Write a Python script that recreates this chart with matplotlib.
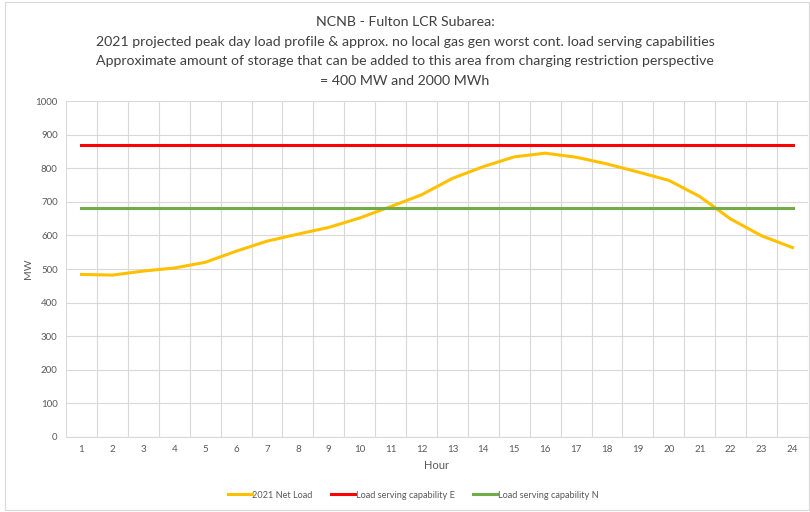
"""NCNB - Fulton LCR subarea load profile vs load serving capabilities."""

import matplotlib.pyplot as plt
from matplotlib.patches import Rectangle
from matplotlib.ticker import FixedLocator, MultipleLocator

plt.rcParams["font.family"] = ["Lato", "DejaVu Sans"]

HOURS = list(range(1, 25))
NET_LOAD_2021 = [484, 482, 494, 503, 520, 553, 583, 604, 624, 652, 686, 721,
                 770, 805, 834, 845, 833, 813, 789, 764, 716, 649, 599, 564]
CAPABILITY_E = [870] * 24
CAPABILITY_N = [683] * 24

TITLE = ("NCNB - Fulton LCR Subarea:\n"
         "2021 projected peak day load profile & approx. no local gas gen worst cont. load serving capabilities\n"
         "Approximate amount of storage that can be added to this area from charging restriction perspective\n"
         "= 400 MW and 2000 MWh")

TEXT_GREY = "#595959"
GRID_GREY = "#d9d9d9"

fig = plt.figure(figsize=(8.1, 5.12), dpi=100)
ax = fig.add_axes([0.0815, 0.1465, 0.916, 0.656])

ax.plot(HOURS, NET_LOAD_2021, color="#ffc000", lw=2.2, label="2021 Net Load")
ax.plot(HOURS, CAPABILITY_E, color="#ff0000", lw=2.2, label="Load serving capability E")
ax.plot(HOURS, CAPABILITY_N, color="#70ad47", lw=2.2, label="Load serving capability N")

ax.set_xlim(0.5, 24.5)
ax.set_ylim(0, 1000)
ax.set_xticks(HOURS)
ax.yaxis.set_major_locator(MultipleLocator(100))
ax.xaxis.set_minor_locator(FixedLocator([h + 0.5 for h in range(0, 25)]))
ax.grid(which="minor", axis="x", color=GRID_GREY, lw=0.8)
ax.grid(which="major", axis="y", color=GRID_GREY, lw=0.8)
ax.set_axisbelow(True)
ax.tick_params(which="both", length=0, labelsize=7, colors=TEXT_GREY, pad=6)
for side in ("top", "right", "left"):
    ax.spines[side].set_visible(False)
ax.spines["bottom"].set_color(GRID_GREY)

ax.set_xlabel("Hour", fontsize=8, color=TEXT_GREY, labelpad=4)
ax.set_ylabel("MW", fontsize=7.5, color=TEXT_GREY, labelpad=2)

fig.text(0.5, 0.968, TITLE, ha="center", va="top", fontsize=10.2,
         color="#404040", linespacing=1.75)

fig.legend(loc="center", bbox_to_anchor=(0.51, 0.033), ncol=3, frameon=False,
           fontsize=6.6, labelcolor=TEXT_GREY, handlelength=2.6,
           handletextpad=0.1, columnspacing=2.0)

fig.patches.append(Rectangle((0.006, 0.004), 0.993, 0.992, transform=fig.transFigure,
                             fill=False, edgecolor="#d9d9d9", lw=0.8))

plt.savefig("out.png", dpi=100)
